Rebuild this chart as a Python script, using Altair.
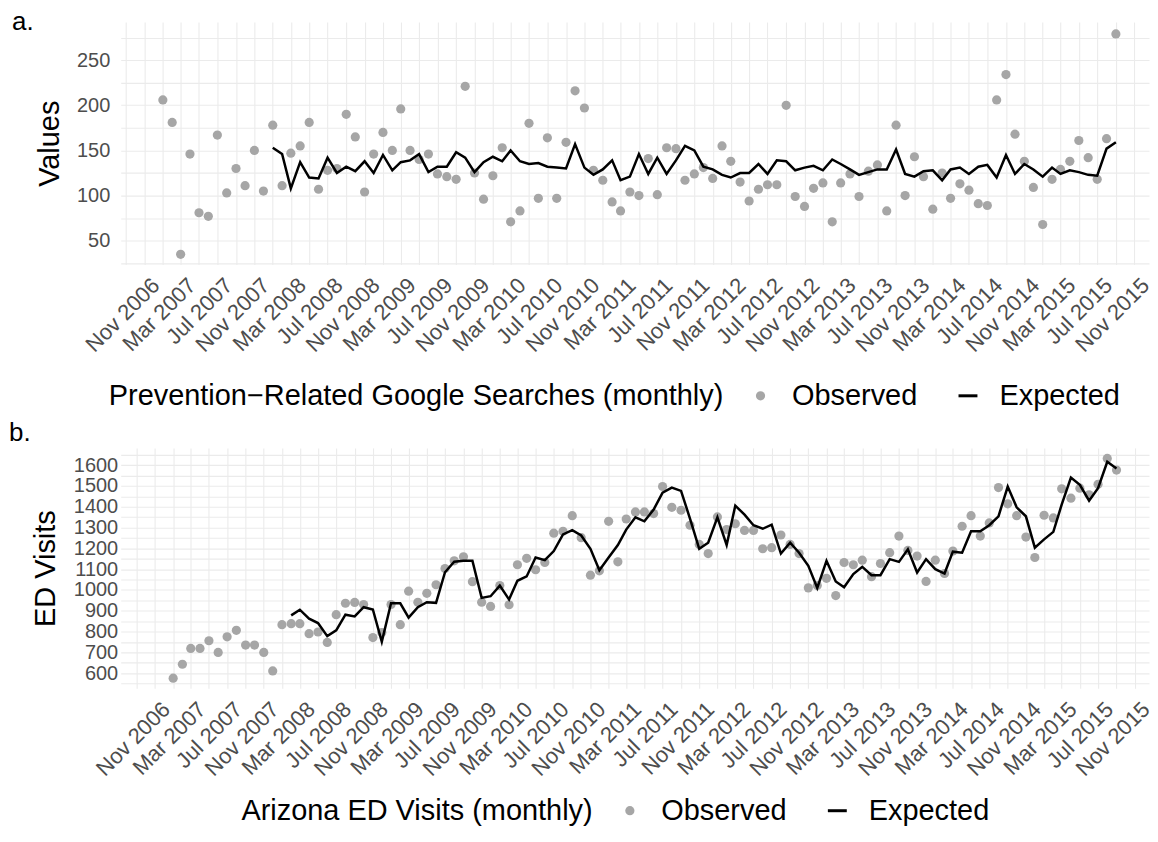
import altair as alt
import pandas as pd

# ---------------- data ----------------
N_MONTHS = 105  # Jan 2007 .. Sep 2015
dates = pd.date_range("2007-01-01", periods=N_MONTHS, freq="MS").strftime("%Y-%m-%d").tolist()

search_observed = [206, 181, 35, 146, 81, 77, 167, 103, 130, 111, 150, 105,
                   178, 111, 147, 155, 181, 107, 128, 130, 190, 165, 104, 146,
                   170, 150, 196, 150, 140, 146, 124, 121, 118, 221, 125, 96,
                   122, 153, 71, 83, 180, 97, 164, 97, 159, 216, 197, 128,
                   117, 93, 83, 104, 100, 141, 101, 153, 152, 117, 124, 131,
                   119, 155, 138, 115, 94, 107, 112, 112, 200, 99, 88, 108,
                   114, 71, 114, 124, 99, 127, 134, 83, 178, 100, 143, 121,
                   85, 125, 97, 113, 106, 91, 89, 206, 234, 168, 138, 109,
                   68, 118, 129, 138, 161, 142, 118, 163, 279]
search_expected_start = 12  # Jan 2008
search_expected = [153, 146, 108, 137, 120, 119, 142, 125, 132, 127, 138, 125,
                   145, 128, 137, 139, 146, 126, 132, 132, 148, 142, 126, 137,
                   143, 138, 150, 138, 135, 136, 132, 131, 130, 157, 131, 123,
                   129, 139, 117, 121, 146, 124, 142, 124, 139, 155, 150, 132,
                   129, 123, 120, 125, 125, 135, 124, 139, 138, 128, 131, 133,
                   128, 140, 135, 129, 123, 126, 129, 129, 151, 124, 121, 127,
                   128, 117, 129, 131, 124, 132, 134, 120, 145, 124, 135, 129,
                   121, 131, 124, 128, 126, 123, 122, 152, 159]

ed_observed = [576, 643, 719, 719, 756, 700, 775, 806, 735, 735, 700, 611,
               833, 838, 838, 790, 798, 748, 881, 936, 940, 930, 771, 795,
               930, 833, 994, 941, 984, 1025, 1103, 1140, 1159, 1040, 941, 921,
               1021, 929, 1121, 1152, 1097, 1132, 1273, 1282, 1357, 1251, 1071, 1092,
               1330, 1135, 1341, 1375, 1375, 1367, 1497, 1397, 1383, 1311, 1219, 1175,
               1351, 1290, 1318, 1286, 1286, 1198, 1203, 1264, 1219, 1175, 1010, 1021,
               1056, 973, 1132, 1121, 1143, 1064, 1127, 1179, 1259, 1190, 1163, 1041,
               1143, 1079, 1187, 1306, 1357, 1259, 1322, 1492, 1414, 1357, 1254, 1156,
               1359, 1346, 1486, 1441, 1489, 1457, 1508, 1632, 1576]
ed_expected_start = 13  # Feb 2008
ed_expected = [878, 905, 862, 841, 778, 806, 881, 873, 917, 906, 751, 936,
               936, 867, 917, 941, 938, 1085, 1136, 1140, 1140, 962, 970, 1021,
               954, 1044, 1065, 1156, 1143, 1187, 1267, 1287, 1262, 1198, 1095, 1156,
               1216, 1290, 1349, 1330, 1386, 1468, 1492, 1476, 1343, 1198, 1227, 1349,
               1216, 1405, 1362, 1311, 1294, 1314, 1175, 1227, 1179, 1116, 1010, 1140,
               1041, 1013, 1076, 1111, 1071, 1071, 1148, 1135, 1195, 1084, 1148, 1100,
               1079, 1184, 1179, 1282, 1282, 1311, 1354, 1497, 1397, 1354, 1203, 1243,
               1279, 1410, 1540, 1505, 1429, 1489, 1616, 1584]

SERIES = ["Observed", "Expected"]

# ---------------- style ----------------
FONT = "Liberation Sans"
GREY = "#A6A6A6"
GRID = "#EBEBEB"
TICK_COL = "#4D4D4D"
XTICK_SIZE = 22
YTICK_SIZE = 20
TITLE_SIZE = 29

x_ticks = []
yy, mm = 2006, 9
while (yy, mm) <= (2015, 11):
    x_ticks.append(alt.DateTime(year=yy, month=mm, date=1, utc=True))
    mm += 2
    if mm > 12:
        mm -= 12
        yy += 1


def panel(tag, obs, exp_vals, exp_start, ytitle, ltitle, xdomain, ydomain, ytick_lo, ytick_hi,
          ystep, ylabel_every, width, height, legend_x, legend_y, label_pad, title_x,
          tag_dx, tag_offset):
    obs_df = pd.DataFrame({"date": dates, "value": obs, "series": "Observed"})
    exp_df = pd.DataFrame({"date": dates[exp_start:exp_start + len(exp_vals)],
                           "value": exp_vals, "series": "Expected"})
    x = alt.X("date:T", title=None,
              scale=alt.Scale(type="utc", domain=xdomain),
              axis=alt.Axis(values=x_ticks,
                            labelExpr="utcmonth(datum.value) % 4 == 2 ? utcFormat(datum.value, '%b %Y') : ''",
                            labelAngle=-45, labelOverlap=False, labelFlush=False,
                            labelPadding=10, labelOffset=4,
                            labelFont=FONT, labelFontSize=XTICK_SIZE, labelColor=TICK_COL,
                            grid=True, gridColor=GRID, gridWidth=1.1, ticks=False, domain=False))
    y = alt.Y("value:Q", title=ytitle,
              scale=alt.Scale(domain=ydomain, nice=False, zero=False),
              axis=alt.Axis(values=list(range(ytick_lo, ytick_hi + 1, ystep)), format="d",
                            labelExpr=f"datum.value % {ylabel_every} == 0 ? datum.label : ''",
                            labelOverlap=False, labelPadding=label_pad, titleX=title_x,
                            labelFont=FONT, labelFontSize=YTICK_SIZE, labelColor=TICK_COL,
                            titleFont=FONT, titleFontSize=TITLE_SIZE, titleColor="black",
                            titleFontWeight="normal",
                            grid=True, gridColor=GRID, gridWidth=1.1, ticks=False, domain=False))
    leg = alt.Legend(title=ltitle, orient="none", direction="horizontal",
                     titleOrient="left", legendX=legend_x, legendY=legend_y,
                     titleFontSize=TITLE_SIZE, labelFontSize=TITLE_SIZE, titleFontWeight="normal",
                     titleColor="black", labelColor="black", titleFont=FONT, labelFont=FONT,
                     titleLimit=2000, labelLimit=2000,
                     titlePadding=22, labelOffset=17, columnPadding=35,
                     symbolStrokeWidth=3, symbolOpacity=1)
    pts = alt.Chart(obs_df).mark_point(filled=True, opacity=1, strokeWidth=0).encode(
        x=x, y=y,
        fill=alt.Fill("series:N", scale=alt.Scale(domain=SERIES, range=[GREY, "transparent"]), legend=leg),
        stroke=alt.Stroke("series:N", scale=alt.Scale(domain=SERIES, range=["transparent", "black"]), legend=leg),
        shape=alt.Shape("series:N", scale=alt.Scale(domain=SERIES, range=["circle", "stroke"]), legend=leg),
        size=alt.Size("series:N", scale=alt.Scale(domain=SERIES, range=[85, 360]), legend=leg),
    )
    line = alt.Chart(exp_df).mark_line(color="black", strokeWidth=2.5).encode(x=x, y=y)
    return alt.layer(pts, line).properties(
        width=width, height=height,
        title=alt.TitleParams(tag, anchor="start", frame="bounds", fontSize=26,
                              fontWeight="normal", color="black", font=FONT,
                              offset=tag_offset, dx=tag_dx),
    )


panel_a = panel("a.", search_observed, search_expected, search_expected_start,
                "Values", "Prevention\u2212Related Google Searches (monthly)",
                [alt.DateTime(year=2006, month=8, date=14, utc=True),
                 alt.DateTime(year=2015, month=12, date=20, utc=True)],
                [23.8, 292.2], 25, 275, 25, 50, 1031, 243, -12, 360, 11, -56, -24, -13)
panel_b = panel("b.", ed_observed, ed_expected, ed_expected_start,
                "ED Visits", "Arizona ED Visits (monthly)",
                [alt.DateTime(year=2006, month=7, date=9, utc=True),
                 alt.DateTime(year=2015, month=12, date=19, utc=True)],
                [527.5, 1682.5], 550, 1650, 50, 100, 1031, 241, 121, 349, 3, -60, -23, -1)

chart = alt.vconcat(panel_a, panel_b, spacing=8).resolve_scale(
    x="independent", y="independent", fill="independent", stroke="independent",
    shape="independent", size="independent",
).resolve_legend(
    fill="independent", stroke="independent", shape="independent", size="independent",
).properties(
    padding={"left": 0, "top": 0, "right": -4, "bottom": 0},
).configure(font=FONT).configure_view(stroke=None)

chart.save("out.html", embed_options={"renderer": "svg", "actions": False})
